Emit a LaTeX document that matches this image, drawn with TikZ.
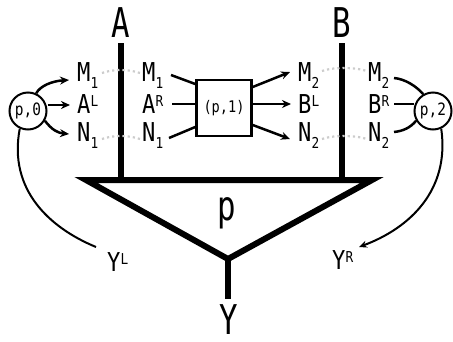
\documentclass[tikz,border=0pt]{standalone}
\usepackage{fontspec}
\setmainfont[FakeStretch=0.85]{DejaVu Sans Mono}
\newfontfamily\bigfont[FakeStretch=0.75]{DejaVu Sans Mono}
\usetikzlibrary{arrows.meta}
\newcommand\lsub[2]{#1\raisebox{-7pt}{\fontsize{15}{15}\selectfont #2}}
\newcommand\lsup[2]{#1\raisebox{7pt}{\fontsize{15}{15}\selectfont #2}}
\tikzset{
  lbl/.style={font=\fontsize{26}{26}\selectfont, inner sep=0pt, anchor=base west},
  big/.style={font=\bigfont\fontsize{41}{41}\selectfont, inner sep=0pt},
  circ/.style={circle, draw, line width=2pt, minimum size=37pt, inner sep=0pt, fill=white, font=\fontsize{17}{17}\selectfont},
  procbox/.style={draw, line width=2.5pt, minimum width=55pt, minimum height=56pt, inner sep=0pt, fill=white, font=\fontsize{16}{16}\selectfont},
  wire/.style={line width=2.5pt},
  awire/.style={line width=2.5pt, -{Stealth[length=9pt,width=8pt]}},
  heavy/.style={line width=6pt},
  thin/.style={line width=2pt},
  dots/.style={draw=gray!40, line width=2.2pt, dash pattern=on 2.2pt off 3pt},
}
\begin{document}
\begin{tikzpicture}[x=1pt,y=-1pt]
\useasboundingbox (0,0) rectangle (453,341);
% big labels
\node[big] (A) at (121,23) {A};
\node[big] (B) at (342,23) {B};
\node[big] (p) at (227,213) {p};
\node[big] (Y) at (229,320) {Y};
% triangle
\coordinate (tl) at (86,180);
\coordinate (tr) at (372,180);
\coordinate (ap) at (228,259);
\coordinate (At) at (121,43);
\coordinate (Ab) at (121,180);
\coordinate (Bt) at (342,43);
\coordinate (Bb) at (342,180);
\coordinate (Ys) at (228,299);
\draw[heavy, line join=miter] (tl) -- (tr) -- (ap) -- cycle;
\draw[heavy] (At) -- (Ab);
\draw[heavy] (Bt) -- (Bb);
\draw[heavy] (ap) -- (Ys);
% row labels
\node[lbl] (M1a) at (77,81) {\lsub{M}{1}};
\node[lbl] (AL) at (77,113) {\lsup{A}{L}};
\node[lbl] (N1a) at (77,141) {\lsub{N}{1}};
\node[lbl] (M1b) at (142,81) {\lsub{M}{1}};
\node[lbl] (AR) at (142,113) {\lsup{A}{R}};
\node[lbl] (N1b) at (142,141) {\lsub{N}{1}};
\node[lbl] (M2a) at (298,81) {\lsub{M}{2}};
\node[lbl] (BL) at (298,113) {\lsup{B}{L}};
\node[lbl] (N2a) at (298,141) {\lsub{N}{2}};
\node[lbl] (M2b) at (368,81) {\lsub{M}{2}};
\node[lbl] (BR) at (368,113) {\lsup{B}{R}};
\node[lbl] (N2b) at (368,141) {\lsub{N}{2}};
% Y labels
\node[lbl] (YL) at (107,271) {\lsup{Y}{L}};
\node[lbl] (YR) at (332,269) {\lsup{Y}{R}};
% dotted
\draw[dots] (102,73) .. controls (113,69) and (128,69) .. (140,73);
\draw[dots] (102,139) .. controls (113,135) and (128,135) .. (140,139);
\draw[dots] (322,71) .. controls (333,67) and (354,67) .. (367,71);
\draw[dots] (322,139) .. controls (333,135) and (354,135) .. (367,139);
% circles
\node[circ] (c0) at (28,111) {p,0};
\node[circ] (c2) at (433,111) {p,2};
\node[procbox] (c1) at (224,108) {(p,1)};
% arrows from c0
\coordinate (m1in) at (69,80);
\coordinate (alin) at (70,105);
\coordinate (n1in) at (69,134);
\draw[awire] (c0.65) .. controls (40,86) and (52,81) .. (m1in);
\draw[awire] (c0.east |- 0,105) -- (alin);
\draw[awire] (c0.-30) .. controls (52,130) and (58,133) .. (n1in);
% into c1
\coordinate (m1o) at (171,75);
\coordinate (aro) at (172,104);
\coordinate (n1o) at (169,138);
\draw[wire] (m1o) -- (c1.west |- 0,84);
\draw[wire] (aro) -- (c1.west |- 0,104);
\draw[wire] (n1o) -- (c1.west |- 0,127);
% out of c1
\coordinate (m2in) at (290,72);
\coordinate (blin) at (291,104);
\coordinate (n2in) at (290,139);
\draw[awire] (c1.east |- 0,87) -- (m2in);
\draw[awire] (c1.east |- 0,104) -- (blin);
\draw[awire] (c1.east |- 0,125) -- (n2in);
% into c2
\coordinate (m2o) at (394,78);
\coordinate (bro) at (394,104);
\coordinate (n2o) at (394,132);
\draw[wire] (m2o) .. controls (405,79) and (416,86) .. (c2.120);
\draw[wire] (bro) -- (c2.west |- 0,104);
\draw[wire] (n2o) .. controls (403,131) and (410,128) .. (c2.-150);
% long curves
\coordinate (yle) at (96,247);
\coordinate (yre) at (359,247);
\draw[thin] (c0.-115) .. controls (8,190) and (50,228) .. (yle);
\draw[thin, -{Stealth[length=8pt,width=7pt]}] (c2.-65) .. controls (450,190) and (410,228) .. (yre);
\end{tikzpicture}
\end{document}
